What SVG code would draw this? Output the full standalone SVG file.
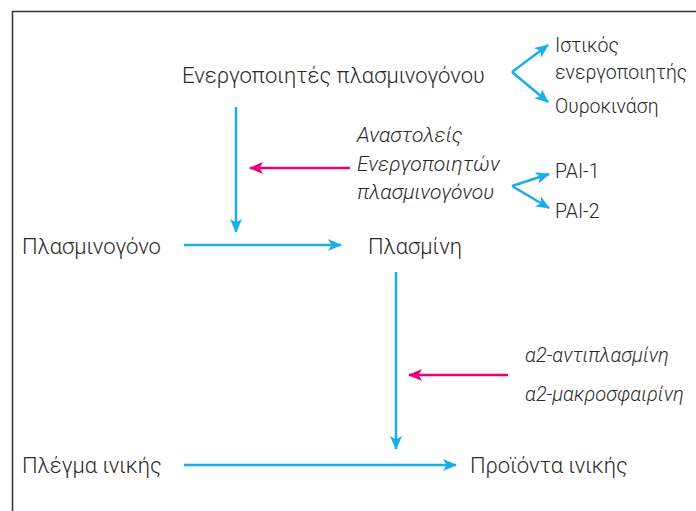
<svg xmlns="http://www.w3.org/2000/svg" width="696" height="511" viewBox="0 0 696 511">
<style>
text{font-family:Roboto,"Noto Sans","DejaVu Sans",sans-serif;font-size:22px;font-weight:300;fill:#2a2a2a}
.s{font-size:19.5px}
.i{font-style:italic;font-size:21px}
.a{font-style:italic;font-size:20px}
.b{stroke:#1aaee8;stroke-width:2.5;fill:none}
.p{stroke:#e5007d;stroke-width:2.5;fill:none}
</style>
<defs>
<marker id="ab" viewBox="0 0 14 12" refX="13" refY="6" markerWidth="14" markerHeight="12" markerUnits="userSpaceOnUse" orient="auto"><path d="M0,0 L14,6 L0,12 L3.5,6 Z" fill="#1aaee8"/></marker>
<marker id="ap" viewBox="0 0 14 12" refX="13" refY="6" markerWidth="14" markerHeight="12" markerUnits="userSpaceOnUse" orient="auto"><path d="M0,0 L14,6 L0,12 L3.5,6 Z" fill="#e5007d"/></marker>
</defs>
<path d="M12.5,511 V11.5 H696" stroke="#333" stroke-width="1.5" fill="none"/>
<g id="connectors">
<line class="b" x1="512" y1="72" x2="548" y2="45" marker-end="url(#ab)"/>
<line class="b" x1="512" y1="72" x2="548" y2="102" marker-end="url(#ab)"/>
<line class="b" x1="236" y1="107" x2="236" y2="232" marker-end="url(#ab)"/>
<line class="p" x1="350" y1="168" x2="250" y2="168" marker-end="url(#ap)"/>
<line class="b" x1="512" y1="186" x2="549" y2="174" marker-end="url(#ab)"/>
<line class="b" x1="512" y1="186" x2="549" y2="208" marker-end="url(#ab)"/>
<line class="b" x1="184" y1="245" x2="341" y2="245" marker-end="url(#ab)"/>
<line class="b" x1="396" y1="272" x2="396" y2="449" marker-end="url(#ab)"/>
<line class="p" x1="508" y1="375" x2="409" y2="375" marker-end="url(#ap)"/>
<line class="b" x1="184" y1="465" x2="456" y2="465" marker-end="url(#ab)"/>
</g>
<g id="n-activators"><text x="182" y="83">Ενεργοποιητές πλασμινογόνου</text></g>
<g id="n-tpa"><text class="s" x="555" y="52">Ιστικός</text><text class="s" x="555" y="79">ενεργοποιητής</text></g>
<g id="n-uro"><text class="s" x="555" y="113">Ουροκινάση</text></g>
<g id="n-inhib"><text class="i" x="357" y="142">Αναστολείς</text><text class="i" x="357" y="171">Ενεργοποιητών</text><text class="i" x="357" y="199">πλασμινογόνου</text></g>
<g id="n-pai1"><text class="s" x="555" y="178">PAI-1</text></g>
<g id="n-pai2"><text class="s" x="555" y="218">PAI-2</text></g>
<g id="n-plasminogen"><text x="22" y="254">Πλασμινογόνο</text></g>
<g id="n-plasmin"><text x="368" y="254">Πλασμίνη</text></g>
<g id="n-antiplasmin"><text class="a" x="525" y="362">α2-αντιπλασμίνη</text><text class="a" x="525" y="401">α2-μακροσφαιρίνη</text></g>
<g id="n-fibrin"><text x="22" y="473">Πλέγμα ινικής</text></g>
<g id="n-products"><text x="470" y="473">Προϊόντα ινικής</text></g>
</svg>
